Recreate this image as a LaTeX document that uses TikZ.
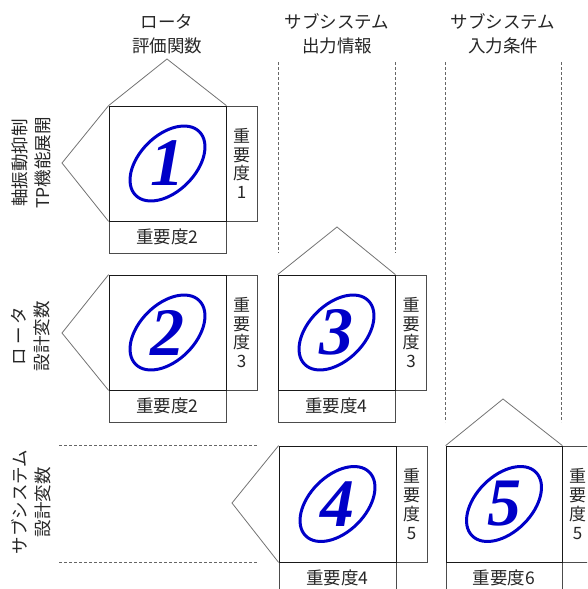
\documentclass[tikz,border=0pt]{standalone}
\usepackage{fontspec}
\setmainfont{Liberation Serif}
\newfontfamily\jp{Noto Sans CJK JP}
\definecolor{numblue}{RGB}{0,0,200}
\begin{document}
\begin{tikzpicture}[x=1pt,y=-1pt,
  sq/.style={draw=black!90, line width=0.8pt, minimum width=117pt, minimum height=115pt, inner sep=0pt},
  sidebox/.style={draw=black!70, line width=0.8pt, minimum width=31pt, minimum height=115pt, inner sep=0pt, align=center,
    font=\jp\fontsize{17}{18.8}\selectfont, text=black!85},
  botbox/.style={draw=black!70, line width=0.8pt, minimum width=117pt, minimum height=32pt, inner sep=0pt,
    font=\jp\fontsize{17.5}{18}\selectfont, text=black!85},
  roof/.style={draw=black!55, line width=0.8pt},
  guide/.style={draw=black!60, line width=0.8pt, dash pattern=on 3pt off 2pt},
  head/.style={align=center, font=\jp\fontsize{17.5}{24}\selectfont, text=black!85},
  rowlbl/.style={align=center, rotate=90, font=\jp\fontsize{17.5}{23}\selectfont, text=black!85},
  ring/.style={draw=numblue, line width=3pt},
  num/.style={text=numblue, font=\fontsize{68}{68}\selectfont\bfseries\itshape, inner sep=0pt}
]
\useasboundingbox (0,0) rectangle (587,589);
\clip (0,0) rectangle (587,589);

% guides
\coordinate (g1t) at (278,62); \coordinate (g1b) at (278,253);
\coordinate (g2t) at (395,62); \coordinate (g2b) at (395,253);
\coordinate (g3t) at (445,62); \coordinate (g3b) at (445,422);
\coordinate (g4t) at (561,62); \coordinate (g4b) at (561,422);
\coordinate (h1l) at (59,445); \coordinate (h1r) at (257,445);
\coordinate (h2l) at (59,562); \coordinate (h2r) at (257,562);
\draw[guide] (g1t) -- (g1b);
\draw[guide] (g2t) -- (g2b);
\draw[guide] (g3t) -- (g3b);
\draw[guide] (g4t) -- (g4b);
\draw[guide] (h1l) -- (h1r);
\draw[guide] (h2l) -- (h2r);

% headers
\node[head] (hd1) at (167,34) {ロータ\\評価関数};
\node[head] (hd2) at (337,34) {サブシステム\\出力情報};
\node[head] (hd3) at (503,34) {サブシステム\\入力条件};

% row labels
\node[rowlbl] (rl1) at (31,163) {軸振動抑制\\TP機能展開};
\node[rowlbl] (rl2) at (31,336) {ロ\,ー\,タ\\設計変数};
\node[rowlbl] (rl3) at (31,502) {サブシステム\\設計変数};

% ---- box 1
\node[sidebox] (s1) at (241.5,163.5) {重\\要\\度\\1};
\node[botbox] (b1) at (167.5,237) {重要度2};
\node[sq] (q1) at (167.5,163.5) {};
\coordinate (r1) at (167,59);
\coordinate (l1) at (62,163);
\draw[roof] (q1.north west) -- (r1) -- (q1.north east);
\draw[roof] (q1.north west) -- (l1) -- (q1.south west);
\draw[ring, rotate around={45:(q1.center)}] (q1.center) ellipse [x radius=45pt, y radius=28pt];
\node[num] (n1) at (q1.center) {1};

% ---- box 2
\node[sidebox] (s2) at (241.5,332.5) {重\\要\\度\\3};
\node[botbox] (b2) at (167.5,406) {重要度2};
\node[sq] (q2) at (167.5,332.5) {};
\coordinate (l2) at (62,333);
\draw[roof] (q2.north west) -- (l2) -- (q2.south west);
\draw[ring, rotate around={45:(q2.center)}] (q2.center) ellipse [x radius=45pt, y radius=28pt];
\node[num] (n2) at (q2.center) {2};

% ---- box 3
\node[sidebox] (s3) at (411,332.5) {重\\要\\度\\3};
\node[botbox] (b3) at (336.5,406) {重要度4};
\node[sq] (q3) at (336.5,332.5) {};
\coordinate (r3) at (337,227);
\draw[roof] (q3.north west) -- (r3) -- (q3.north east);
\draw[ring, rotate around={45:(q3.center)}] (q3.center) ellipse [x radius=45pt, y radius=28pt];
\node[num] (n3) at (q3.center) {3};

% ---- box 4
\node[sidebox, minimum height=116pt] (s4) at (411.5,504) {重\\要\\度\\5};
\node[botbox] (b4) at (337.5,578) {重要度4};
\node[sq, minimum height=116pt] (q4) at (337.5,504) {};
\coordinate (l4) at (232,503);
\draw[roof] (q4.north west) -- (l4) -- (q4.south west);
\draw[ring, rotate around={45:(q4.center)}] (q4.center) ellipse [x radius=45pt, y radius=28pt];
\node[num] (n4) at (q4.center) {4};

% ---- box 5
\node[sidebox, minimum height=116pt] (s5) at (577.5,504) {重\\要\\度\\5};
\node[botbox, minimum width=116pt] (b5) at (504,578) {重要度6};
\node[sq, minimum width=116pt, minimum height=116pt] (q5) at (504,504) {};
\coordinate (r5) at (503,399);
\draw[roof] (q5.north west) -- (r5) -- (q5.north east);
\draw[ring, rotate around={45:(q5.center)}] (q5.center) ellipse [x radius=45pt, y radius=28pt];
\node[num] (n5) at (q5.center) {5};
\end{tikzpicture}
\end{document}
